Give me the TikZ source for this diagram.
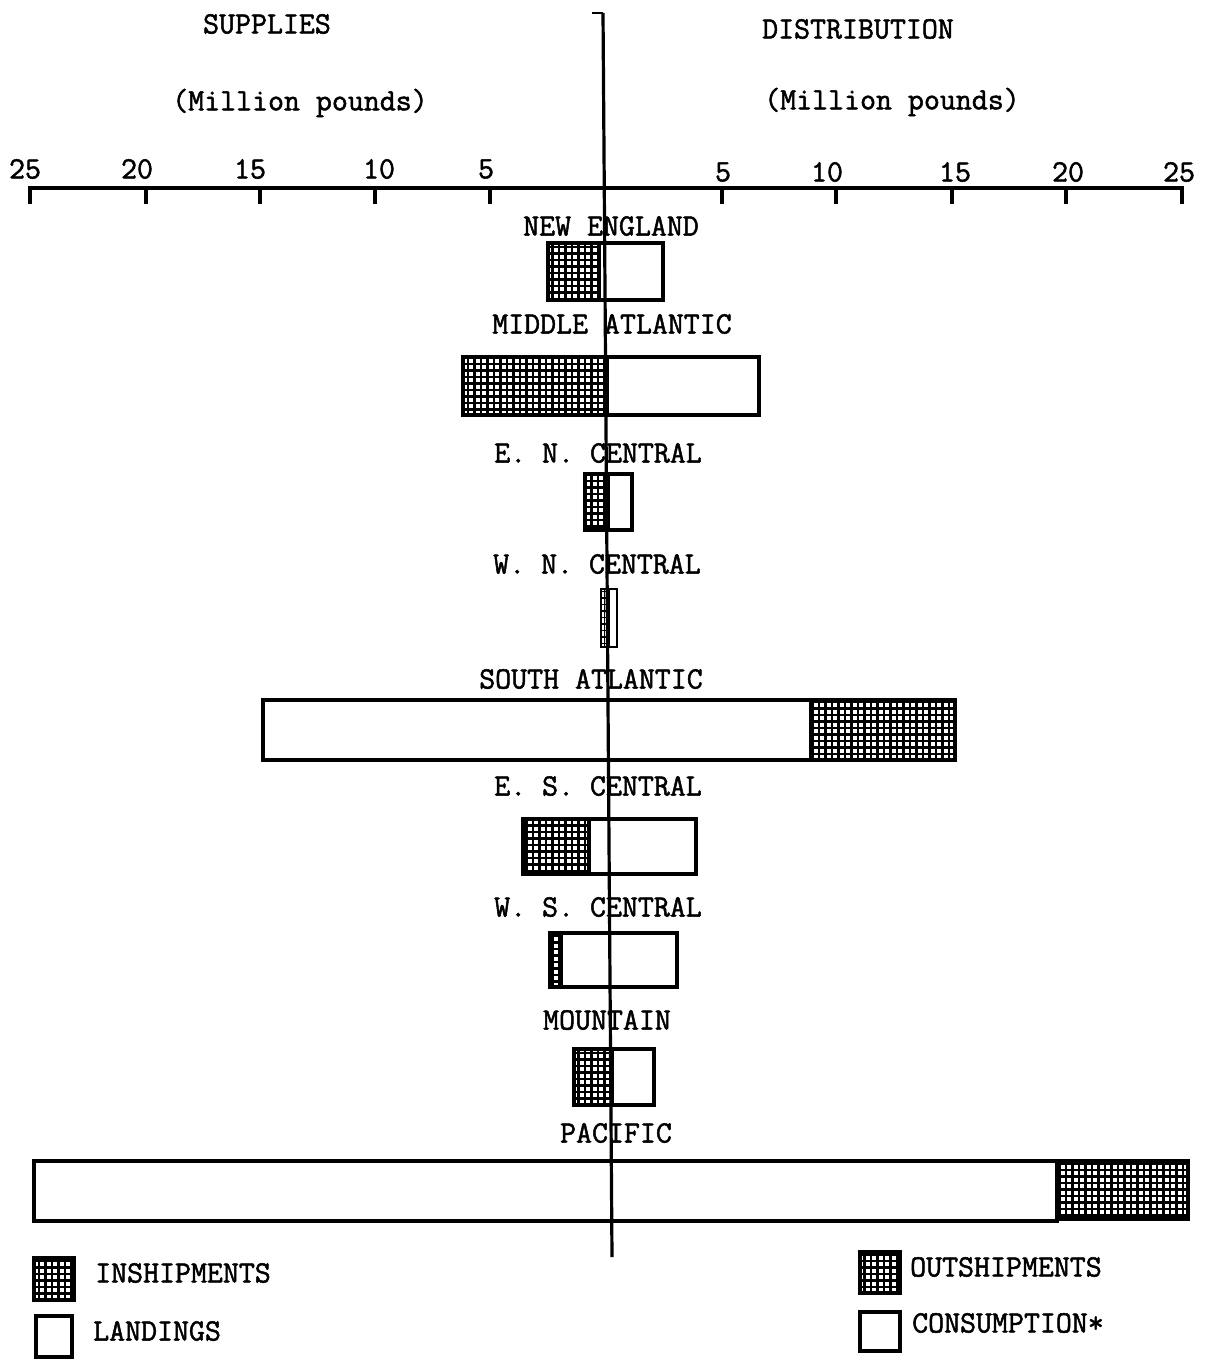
\documentclass[tikz,border=0pt]{standalone}
\usepackage{fontspec}
\newfontfamily\typewr{Latin Modern Mono}[FakeBold=1.6]
\begin{document}
\begin{tikzpicture}[x=1pt,y=-1pt]
\tikzset{
  bar/.style={draw=black, line width=3.2pt, line join=miter},
  axisline/.style={line width=3.2pt},
  tickline/.style={line width=3.4pt},
  gridline/.style={line width=2.4pt},
  lbl/.style={font=\typewr\fontsize{31}{36}\selectfont, inner sep=0pt},
}
\newcommand\hatchrect[4]{%
  \begin{scope}
    \clip (#1,#2) rectangle (#3,#4);
    \draw[gridline,step=6.5pt] (#1,#2) grid (#3,#4);
  \end{scope}
  \draw[bar] (#1,#2) rectangle (#3,#4);}
\newcommand\openrect[4]{\draw[bar] (#1,#2) rectangle (#3,#4);}
\fill[white] (0,0) rectangle (1204,1359);
\useasboundingbox (0,0) rectangle (1204,1359);

% headers
\node[lbl] (supplies) at (267,24) {SUPPLIES};
\node[lbl] (unitl) at (300,103) {(Million pounds)};
\node[lbl] (distrib) at (858,29) {DISTRIBUTION};
\node[lbl] (unitr) at (892,102) {(Million pounds)};

% horizontal axis
\coordinate (al) at (30,188);
\coordinate (ar) at (1182,188);
\draw[axisline] (al) -- (ar);
\foreach \x/\t/\lx in {30/25/25,146/20/137,260/15/250,375/10/379,490/5/486}{
  \draw[tickline] (\x,186) -- (\x,204);
  \node[lbl] (nl\t) at (\lx,169) {\t};
}
\foreach \x/\t/\lx in {722/5/723,836/10/827,952/15/955,1066/20/1068,1182/25/1179}{
  \draw[tickline] (\x,186) -- (\x,204);
  \node[lbl] (nr\t) at (\lx,172) {\t};
}

% region labels
\node[lbl] (ne)  at (611,226) {NEW ENGLAND};
\node[lbl] (ma)  at (612,324) {MIDDLE ATLANTIC};
\node[lbl] (enc) at (598,453) {E. N. CENTRAL};
\node[lbl] (wnc) at (597,564) {W. N. CENTRAL};
\node[lbl] (sa)  at (591,679) {SOUTH ATLANTIC};
\node[lbl] (esc) at (598,786) {E. S. CENTRAL};
\node[lbl] (wsc) at (598,907) {W. S. CENTRAL};
\node[lbl] (mtn) at (607,1020) {MOUNTAIN};
\node[lbl] (pac) at (616,1133) {PACIFIC};

% bars
% New England
\hatchrect{548}{243}{599}{300}
\openrect{599}{243}{663}{300}
% Middle Atlantic
\hatchrect{463}{357}{607}{415}
\openrect{607}{357}{759}{415}
% E. N. Central
\hatchrect{585}{474}{608}{530}
\openrect{608}{474}{632}{530}
% W. N. Central
\begin{scope}
  \clip (601,589) rectangle (609,647);
  \draw[line width=1.6pt,step=6.5pt] (601,589) grid (609,647);
\end{scope}
\draw[bar,line width=2.6pt] (601,589) rectangle (609,647);
\draw[bar,line width=2.6pt] (609,589) rectangle (617,647);
% South Atlantic
\openrect{263}{700}{811}{760}
\hatchrect{811}{700}{955}{760}
% E. S. Central
\hatchrect{523}{819}{589}{874}
\openrect{589}{819}{696}{874}
% W. S. Central
\hatchrect{550}{933}{561}{987}
\openrect{561}{933}{677}{987}
% Mountain
\hatchrect{574}{1049}{612}{1105}
\openrect{612}{1049}{654}{1105}
% Pacific
\openrect{34}{1161}{1057}{1221}
\hatchrect{1057}{1161}{1188}{1219}

% vertical centre line
\coordinate (vtop) at (603,13);
\coordinate (vtopl) at (592,13);
\coordinate (vbot) at (612,1257);
\draw[axisline] (vtop) -- (vbot);
\draw[line width=2pt] (vtopl) -- (vtop);

% legend
\hatchrect{34}{1258}{74}{1300}
\node[lbl,anchor=west] (lin) at (95,1273) {INSHIPMENTS};
\openrect{36}{1316}{72}{1357}
\node[lbl,anchor=west] (lland) at (93,1331) {LANDINGS};
\hatchrect{860}{1252}{900}{1293}
\node[lbl,anchor=west] (lout) at (910,1267) {OUTSHIPMENTS};
\openrect{860}{1312}{900}{1351}
\node[lbl,anchor=west] (lcons) at (912,1323) {CONSUMPTION*};
\end{tikzpicture}
\end{document}
